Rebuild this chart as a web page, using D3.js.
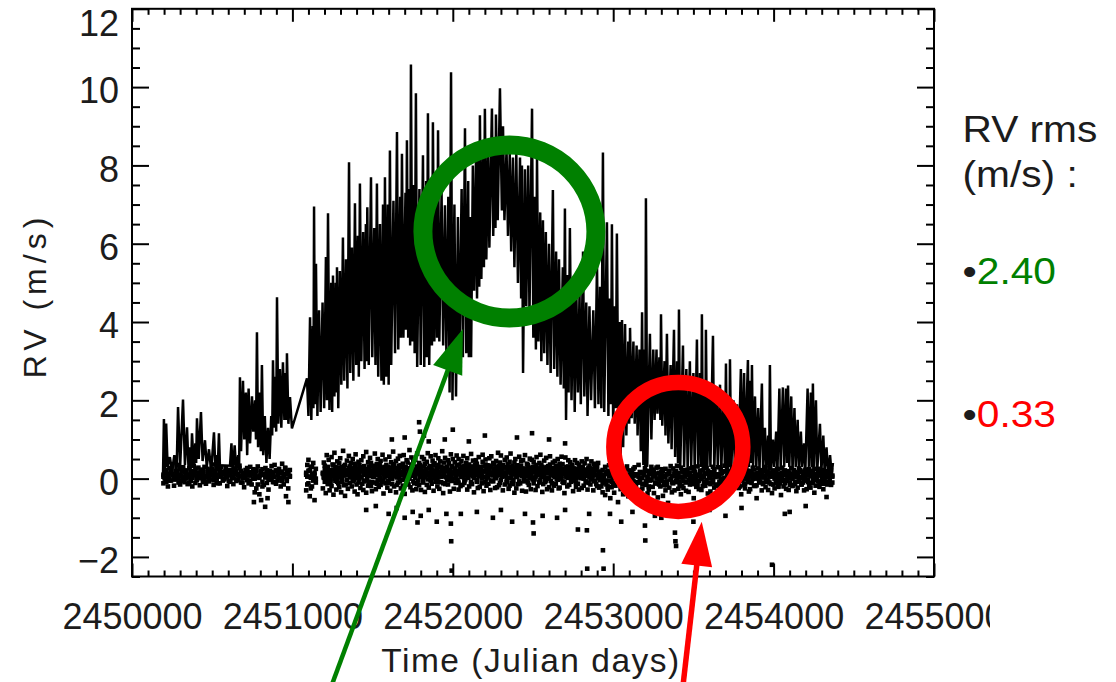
<!DOCTYPE html>
<html>
<head>
<meta charset="utf-8">
<script src="https://cdn.jsdelivr.net/npm/d3@7"></script>
<style>
  html, body { margin: 0; padding: 0; background: #ffffff; }
  svg { display: block; }
  text { font-family: "Liberation Sans", Arial, Helvetica, sans-serif; }
</style>
</head>
<body>
<svg id="chart" width="1116" height="682"></svg>
<script>
// ---------------------------------------------------------------
// Axis definitions
// ---------------------------------------------------------------
const jdBase = 2450000;
const xTickValues = [2450000, 2451000, 2452000, 2453000, 2454000, 2455000];
const xTickLabels = ["2450000", "2451000", "2452000", "2453000", "2454000", "2455000"];
const yTickValues = [-2, 0, 2, 4, 6, 8, 10, 12];
const yTickLabels = ["\u22122", "0", "2", "4", "6", "8", "10", "12"];
const xTitle = "Time (Julian days)";
const yTitle = "RV (m/s)";
const rmsTitle = ["RV rms", "(m/s) :"];
const rmsValues = ["2.40", "0.33"];

// ---------------------------------------------------------------
// Activity-induced RV (connected series): [JD - 2450000, RV m/s]
// ---------------------------------------------------------------
const activityEarly = [
  [193,0.0],[199,1.52],[206,0.25],[213,1.41],[222,0.3],[236,0.55],[250,0.2],[264,0.6],[278,0.15],[287,1.83],
  [300,0.3],[318,2.02],[330,0.35],[343,1.31],[352,0.3],[362,0.8],[368,0.25],[374,1.16],[385,0.35],[395,0.9],
  [400,0.4],[405,1.54],[416,0.5],[430,1.7],[440,0.45],[455,0.98],[466,0.3],[480,0.75],[494,0.2],[511,1.18],
  [520,0.25],[529,0.6],[535,0.3],[542,1.16],[548,0.34],
  [611,0.33],[620,0.9],[628,0.1],[640,0.85],[650,0.2],[662,0.6],[668,0.3],[673,2.59],[680,0.7],[692,2.5],
  [700,1.0],[710,2.2],[718,0.6],[727,2.3],[736,0.9],[748,2.1],[756,1.2],[767,2.0],[773,1.0],[779,3.74],
  [786,0.8],[797,2.2],[803,0.7],[810,2.9],[818,0.6],[828,1.6],[838,0.4],[848,1.3],[858,0.5],[868,1.6],
  [874,1.1],[879,3.02],[886,1.3],[895,2.6],[899,1.2],[904,4.63],[912,1.4],[922,2.8],[931,1.3],[941,2.97],
  [950,1.5],[958,2.7],[962,1.5],[966,3.2],[975,1.4],[985,2.08],[997,1.28]
];
const activityRise = [
  [1091,2.56],[1100,1.6],[1110,4.12],[1118,1.5],[1127,3.9],[1131,1.8],[1135,6.95],[1141,1.9],[1147,5.49],[1156,1.6],
  [1166,4.3],[1176,1.7],[1188,4.5],[1198,1.8],[1209,5.66],[1215,2.0],[1222,6.78],[1231,1.75],[1242,5.0],[1248,1.7],
  [1253,5.19],[1262,2.1],[1270,5.0],[1274,2.2],[1278,5.4],[1286,1.8],[1296,5.3],[1305,2.4],[1315,6.16],[1323,2.5],
  [1334,5.6],[1343,2.3],[1353,8.08],[1361,2.7],[1371,5.9],[1380,2.5],[1390,7.03],[1398,2.9],[1408,6.2],[1414,2.6],
  [1421,7.54],[1430,3.0],[1441,6.3],[1450,2.8],[1458,6.5],[1462,3.0],[1467,6.93],[1476,2.9],[1490,7.7],[1498,3.1],
  [1510,6.4],[1518,2.9],[1527,7.54],[1535,2.6],
  [1546,6.5],[1555,2.5],[1565,7.0],[1570,2.4],[1577,7.7],[1585,2.6],[1595,7.0],[1600,2.4],[1608,8.38],[1616,2.9],
  [1630,7.1],[1640,3.2],[1652,8.85],[1660,3.3],[1672,7.2],[1676,3.6],[1683,8.3],[1692,3.6],[1705,7.3],[1708,3.8],
  [1714,8.64],[1722,3.6],[1730,7.4],[1734,3.4],[1739,10.58],[1748,3.5],[1758,7.5],[1762,3.2],[1770,9.84],[1778,2.85],
  [1792,7.4],[1800,2.9],[1814,8.26],[1822,2.85],[1834,7.6],[1838,3.1],[1845,9.33],[1853,2.9],[1866,7.6],[1870,3.4],
  [1876,9.1],[1885,3.5],[1896,7.5],[1902,3.6],[1908,8.9],[1916,3.5],[1930,7.3],[1940,3.4],[1951,6.98],[1960,3.2],
  [1972,7.2],[1980,2.2],[1989,10.38],[1998,2.0],[2010,7.0],[2020,2.1],[2032,6.68],[2040,2.8],[2055,7.4],[2063,3.1],
  [2076,8.95],[2084,3.2],[2096,7.6],[2100,3.1]
];
const activityPeak = [
  [2107,6.68],[2114,3.1],[2125,8.0],[2133,4.8],[2145,8.3],[2151,4.6],[2160,8.2],[2165,4.9],[2169,9.28],[2178,5.1],
  [2188,8.3],[2194,5.4],[2200,9.45],[2209,5.6],[2220,8.4],[2228,5.9],[2244,9.45],[2252,6.2],[2262,8.5],[2266,6.4],
  [2269,9.3],[2280,6.6],[2294,9.97],[2306,6.85],[2313,9.0],[2322,6.6],[2335,8.4],[2344,6.2],[2355,8.3],[2364,5.8],
  [2375,8.2],[2384,5.4],[2396,8.3],[2406,5.0],[2419,8.2],[2426,4.6],[2431,8.0],[2438,2.7],[2450,7.9],[2458,4.4],
  [2470,8.0],[2478,4.2],
  [2494,9.45],[2502,3.6],[2512,7.2],[2518,3.3],[2525,8.2],[2534,3.5],[2545,6.8],[2552,3.0],[2562,6.6],[2570,3.2],
  [2580,6.3],[2590,2.9],[2600,6.0],[2610,2.7],[2624,7.37],[2632,2.8],[2644,5.8],[2652,2.6],[2662,5.6],[2672,2.4],
  [2686,5.4],[2692,2.3],[2699,6.9],[2706,1.5],[2716,5.2],[2722,2.2],[2730,6.4],[2740,2.0],[2752,5.0],[2760,1.7],
  [2770,4.8],[2780,2.2],[2790,4.7],[2798,1.9],[2812,5.8],[2820,2.1],[2832,4.5],[2840,1.6],[2852,4.4],[2862,2.0],
  [2876,4.3],[2886,1.8],[2899,5.5],[2908,1.9]
];
const activityDecline = [
  [2918,4.9],[2926,1.8],[2936,8.33],[2944,1.7],[2961,6.55],[2970,1.6],[2980,4.6],[2986,1.9],[2992,6.5],[3000,1.16],
  [3010,4.4],[3016,1.8],[3023,6.26],[3032,1.4],[3040,4.0],[3046,0.4],[3055,4.05],[3062,0.8],[3074,3.95],[3082,1.1],
  [3094,3.5],[3100,1.4],[3105,3.85],[3115,1.54],[3126,3.5],[3134,1.4],[3146,3.4],[3152,1.1],[3164,3.3],[3172,0.7],
  [3180,4.25],[3188,0.35],[3196,3.3],[3200,0.3],[3204,7.16],[3212,0.3],[3229,3.7],[3238,1.0],[3250,3.3],[3258,1.5],
  [3270,3.3],[3276,1.66],[3288,3.1],[3294,1.5],[3298,4.2],[3306,1.35],[3320,3.0],[3326,1.1],[3335,3.7],[3344,0.9],
  [3358,2.9],[3364,0.75],[3379,3.8],[3386,0.55],[3398,3.0],[3404,0.4],[3410,4.32],[3418,0.3],[3435,3.4],[3442,0.3],
  [3456,2.8],[3464,0.2],[3478,3.0],[3486,0.3],[3500,2.7],[3508,0.2],[3522,3.55],[3530,0.3],
  [3541,2.7],[3548,0.3],[3553,4.2],[3560,0.2],[3570,2.4],[3574,0.3],[3578,3.8],[3586,0.2],[3598,2.4],[3606,0.3],
  [3622,3.65],[3630,0.2],[3644,2.3],[3652,0.3],[3666,2.4],[3674,0.2],[3688,2.2],[3696,0.3],[3703,2.94],[3710,0.2],
  [3720,2.1],[3724,0.3],[3728,3.05],[3736,0.2],[3750,2.0],[3758,0.3],[3772,1.9],[3780,0.2],[3796,2.8],[3804,0.3],
  [3816,2.7],[3822,0.4],[3840,3.03],[3846,0.3],[3856,2.5],[3860,0.4],[3865,2.9],[3872,0.3],[3884,2.1],[3892,0.3],
  [3904,1.8],[3912,0.2],[3927,2.43],[3934,0.3],[3946,1.3],[3954,0.2],[3966,1.1],[3972,0.3],[3977,2.9],[3984,0.2],
  [3996,1.0],[4004,0.3],[4016,1.2],[4024,0.2],[4036,2.3],[4044,0.3],[4058,2.33],[4066,0.3],[4078,2.3],[4084,0.4],
  [4090,2.38],[4098,0.3],[4110,2.1],[4118,0.2],[4130,1.8],[4138,0.3],[4150,1.5],[4158,0.2],[4170,1.2],[4178,0.3],
  [4190,0.9],[4198,0.2],[4212,2.3],[4220,0.3],[4232,2.2],[4238,0.3],[4245,2.43],[4252,0.3],[4264,2.0],[4272,0.2],
  [4289,1.4],[4298,0.2],[4310,1.1],[4318,0.2],[4330,0.8],[4340,0.1],[4352,0.6],[4362,0.1],[4370,0.4]
];

// ---------------------------------------------------------------
// Corrected RV residuals (points): [JD - 2450000, RV, RV, RV] per night
// ---------------------------------------------------------------
const residualsEarly = [
  [196,0.05,-0.12,0.1],[205,0.18,0.02,0.0],[214,-0.08,0.22,0.15],[224,0.11,-0.2,0.05],[233,0.27,0.0,-0.05],[243,-0.05,0.15,0.2],[252,0.09,0.31,0.12],[262,-0.18,0.06,-0.02],
  [271,0.2,-0.02,0.08],[281,0.13,0.35,0.18],[290,-0.1,0.04,0.0],[300,0.24,-0.15,0.1],[309,0.07,0.18,-0.06],[319,-0.03,0.29,0.22],[328,0.16,-0.09,0.04],[338,0.01,0.21,0.14],
  [347,-0.14,0.1,0.07],[357,0.26,0.03,-0.1],[366,0.12,-0.06,0.19],[376,-0.2,0.17,0.02],[385,0.08,0.33,0.11],[395,0.19,-0.11,0.25],[404,-0.04,0.06,-0.03],[414,0.14,0.28,0.09],
  [423,0.02,-0.17,0.16],[433,0.23,0.09,0.01],[442,-0.09,0.15,0.21],[452,0.3,0.0,0.06],[461,0.05,-0.13,-0.08],[471,0.17,0.25,0.13],[480,-0.07,0.11,0.03],[490,0.21,-0.02,0.17],
  [499,0.1,0.36,0.24],[509,-0.16,0.04,-0.04],[518,0.13,0.2,0.1],[528,0.0,-0.1,0.08],[537,0.25,0.08,-0.12],[547,-0.12,0.16,0.2],[556,0.07,0.3,0.05],[566,0.18,-0.05,0.14],
  [575,-0.02,0.12,0.0],[585,0.28,0.06,0.18],[594,0.03,-0.19,0.09],[604,0.15,0.22,-0.07],[613,-0.08,0.09,0.12],[623,0.2,0.01,0.22],[632,0.04,-0.14,0.04],[642,0.26,0.12,0.15],
  [651,-0.06,0.19,-0.02],[661,0.11,-0.03,0.1],[670,0.33,0.07,0.27],[680,-0.1,0.2,0.06],[689,0.14,0.02,-0.1],[699,0.05,-0.22,0.13],[708,0.22,0.1,0.02],[718,-0.04,0.27,0.19],
  [727,0.16,-0.12,0.08],[737,0.08,0.3,-0.05],[746,-0.15,0.13,0.16],[756,0.24,0.0,0.11],[765,0.1,-0.35,0.0],[775,-0.25,0.18,0.23],[784,0.31,0.05,-0.15],[794,0.02,-0.4,0.07],
  [803,0.19,0.09,0.14],[813,-0.08,0.24,-0.2],[822,0.12,-0.16,0.1],[832,0.27,0.03,0.04],[841,-0.11,0.15,0.21],[851,0.06,-0.28,-0.03],[860,0.2,0.1,0.12],[870,-0.02,0.32,0.17],
  [879,0.15,-0.09,0.05],[889,0.35,0.04,-0.09],[898,-0.13,0.21,0.2],[908,0.09,-0.05,0.09],[917,0.25,0.14,0.02],[927,-0.2,0.02,0.15],[936,0.18,0.38,-0.06],[946,0.04,-0.15,0.11],
  [955,0.28,0.11,0.26],[965,-0.06,0.2,0.0],[974,0.13,-0.25,0.13],[984,0.22,0.05,0.07],
  [1086,0.15,-0.3,0.1],[1093,0.35,0.05,-0.15],[1100,-0.12,0.48,0.2],[1108,0.22,-0.45,0.05],[1115,0.02,0.3,-0.25],[1122,-0.2,0.12,0.3],[1130,0.4,-0.05,0.0],[1138,0.1,-0.55,0.15],[1146,0.25,0.0,-0.1]
];
const residualsMid = [
  [1190,0.12,-0.25,0.15],[1196,0.41,0.05,0.02],[1202,-0.08,0.33,0.25],[1208,0.18,-0.37,0.1],[1214,0.6,0.02,-0.05],[1220,0.27,-0.14,0.3],[1226,0.09,0.48,0.18],[1232,-0.3,0.21,0.06],[1238,0.15,-0.02,-0.12],[1244,0.55,-0.19,0.22],
  [1250,0.07,0.36,0.12],[1256,-0.41,0.23,0.35],[1262,0.11,0.66,0.0],[1268,-0.06,0.3,0.2],[1274,0.17,-0.28,0.08],[1280,0.44,0.0,-0.08],[1286,-0.12,0.25,0.28],[1292,0.39,-0.22,0.14],[1298,0.13,0.52,0.04],[1304,0.04,-0.35,0.24],
  [1310,0.29,-0.09,-0.02],[1316,0.19,0.71,0.17],[1322,-0.17,0.08,0.32],[1328,0.35,-0.44,0.09],[1334,0.22,0.14,-0.15],[1340,-0.03,0.46,0.19],[1346,0.1,-0.26,0.11],[1352,0.58,0.2,0.27],[1358,-0.11,0.31,0.03],[1364,0.06,0.4,0.21],
  [1370,-0.2,0.16,0.08],[1376,0.5,-0.07,0.26],[1382,0.26,0.01,-0.04],[1388,-0.33,0.38,0.16],[1394,0.12,0.62,0.33],[1400,-0.15,0.24,0.01],[1406,0.09,-0.4,0.2],[1412,0.43,0.17,-0.1],[1418,-0.01,0.34,0.13],[1424,-0.24,0.28,0.23],
  [1430,0.03,0.47,0.05],[1436,-0.13,0.21,0.18],[1442,0.57,-0.29,0.29],[1448,0.1,0.32,-0.07],[1454,-0.05,0.18,0.14],[1460,0.68,-0.36,0.24],[1466,0.15,0.07,0.0],[1472,0.42,-0.18,0.11],[1478,0.25,-0.08,0.31],[1484,0.53,0.11,0.07],
  [1490,-0.19,0.4,0.21],[1496,0.14,-0.32,-0.09],[1502,0.33,0.05,0.16],[1508,0.21,-0.1,0.04],[1514,0.64,0.18,0.27],[1520,-0.27,0.09,0.12],[1526,0.37,0.26,-0.13],[1532,-0.04,0.5,0.19],[1538,0.16,-0.21,0.09],[1544,0.02,0.3,0.34],
  [1550,0.45,-0.16,0.02],[1556,-0.08,0.23,0.23],[1562,0.28,0.61,0.13],[1568,-0.38,0.13,-0.06],[1574,0.19,0.04,0.3],[1580,0.49,-0.12,0.17],[1586,0.08,0.35,0.06],[1592,-0.23,0.2,0.25],[1598,0.3,-0.06,-0.11],[1604,0.56,0.15,0.15],
  [1610,0.01,-0.31,0.1],[1616,0.24,0.42,0.28],[1622,-0.14,0.1,-0.01],[1628,0.37,0.69,0.2],[1634,0.06,-0.2,0.36],[1640,0.27,0.16,0.07],[1646,-0.35,0.45,0.14],[1652,0.12,0.03,-0.16],[1658,0.51,-0.1,0.22],[1664,0.2,0.33,0.03],
  [1670,-0.07,0.58,0.18],[1676,0.34,-0.25,0.09],[1682,0.15,0.09,0.3],[1688,-0.18,0.38,-0.03],[1694,0.6,0.22,0.15],[1700,0.05,-0.39,0.25],[1706,0.29,0.13,0.05],[1712,-0.1,0.47,0.12],[1718,0.41,0.0,-0.09],[1724,0.18,-0.15,0.26],
  [1730,0.73,0.26,0.0],[1736,-0.22,0.1,0.19],[1742,0.36,0.54,0.11],[1748,0.07,-0.3,0.33],[1754,0.23,0.44,-0.07],[1760,-0.12,0.17,0.22],[1766,0.48,0.02,0.08],[1772,0.14,-0.27,0.16],[1778,0.31,0.64,-0.14],[1784,-0.05,0.2,0.29],
  [1790,0.4,-0.17,0.13],[1796,0.11,0.35,0.04],[1802,-0.29,0.26,0.24],[1808,0.55,0.08,0.17],[1814,0.19,-0.06,-0.1],[1820,0.03,0.5,0.31],[1826,0.38,-0.34,0.06],[1832,0.24,0.12,0.2],[1838,-0.16,0.43,0.1],[1844,0.65,0.16,-0.02],
  [1850,0.09,-0.23,0.27],[1856,0.32,0.05,0.14],[1862,-0.02,0.57,-0.05],[1868,0.27,-0.13,0.21],[1874,0.46,0.2,0.08],[1880,-0.31,0.1,0.35],[1886,0.17,0.39,0.01],[1892,0.6,-0.08,0.18],[1898,0.13,0.28,0.12],[1904,-0.2,0.01,0.25],
  [1910,0.35,0.52,-0.08],[1916,0.08,-0.26,0.16],[1922,0.44,0.18,0.3],[1928,-0.09,0.3,0.05],[1934,0.22,0.7,0.23],[1940,-0.37,0.06,-0.12],[1946,0.15,0.41,0.11],[1952,0.53,-0.14,0.28],[1958,0.04,0.25,0.19],[1964,0.3,-0.04,0.03],
  [1970,-0.15,0.47,0.22],[1976,0.39,0.11,0.09],[1982,0.2,-0.33,0.15],[1988,0.62,0.07,-0.04],[1994,-0.06,0.29,0.32],[2000,0.16,0.5,0.13],[2006,-0.26,0.14,0.0],[2012,0.42,0.23,0.26],[2018,0.1,-0.11,0.07],[2024,0.34,0.59,0.18],
  [2030,-0.03,0.19,0.11],[2036,0.5,-0.28,-0.1],[2042,0.12,0.36,0.24],[2048,-0.19,0.08,0.17],[2054,0.27,0.45,0.04],[2060,0.06,-0.16,0.29],[2066,0.58,0.21,0.14],[2072,-0.11,0.33,-0.06],[2078,0.24,-0.02,0.2],[2084,0.4,0.13,0.08],
  [2090,-0.28,0.52,0.3],[2096,0.17,0.03,0.02],[2102,0.36,-0.2,0.19],[2108,0.09,0.28,0.12],[2114,0.63,-0.09,-0.13],[2120,-0.14,0.19,0.25],[2126,0.31,0.46,0.06],[2132,0.02,-0.35,0.16],[2138,0.21,0.12,0.34],[2144,0.47,0.27,0.1],
  [2150,-0.08,0.38,-0.03],[2156,0.14,-0.24,0.21],[2162,0.55,0.06,0.09],[2168,-0.21,0.3,0.27],[2174,0.26,0.16,0.14],[2180,0.07,-0.12,0.0],[2186,0.43,0.61,0.18],[2192,-0.32,0.2,0.31],[2198,0.18,0.04,0.05],[2204,0.36,0.49,-0.09],
  [2210,0.0,-0.18,0.23],[2216,0.28,0.34,0.12],[2222,-0.13,0.1,0.03],[2228,0.52,0.23,0.19],[2234,0.11,-0.29,0.29],[2240,0.33,0.57,-0.06],[2246,-0.05,0.15,0.15],[2252,0.4,-0.07,0.08],[2258,0.19,0.37,0.26],[2264,-0.24,0.05,0.13],
  [2270,0.45,0.26,0.01],[2276,0.08,-0.22,0.2],[2282,0.3,0.66,0.1],[2288,-0.17,0.13,0.33],[2294,0.22,0.41,-0.11],[2300,0.59,-0.03,0.17],[2306,0.05,0.24,0.24],[2312,-0.3,0.35,0.06],[2318,0.16,0.09,0.14],[2324,0.48,-0.15,0.28],
  [2330,0.12,0.29,0.07],[2336,-0.09,0.54,-0.04],[2342,0.37,0.02,0.22],[2348,0.21,-0.26,0.16],[2354,-0.18,0.43,0.3],[2360,0.64,0.14,0.02],[2366,0.03,-0.1,0.19],[2372,0.29,0.32,0.11],[2378,-0.04,0.18,-0.14],[2384,0.41,-0.36,0.25],
  [2390,0.15,0.5,0.13],[2396,-0.25,0.07,0.28],[2402,0.34,0.22,0.04],[2408,0.1,-0.14,0.2],[2414,0.56,0.3,-0.07],[2420,-0.12,0.17,0.15],[2426,0.25,0.44,0.32],[2432,0.06,-0.31,0.09],[2438,0.47,0.11,0.18],[2444,-0.07,0.26,0.0],
  [2450,0.2,0.6,0.24],[2456,-0.33,0.09,0.06],[2462,0.38,-0.05,0.14],[2468,0.13,0.35,-0.1],[2474,-0.16,0.2,0.27],[2480,0.51,0.01,0.11],[2486,0.08,-0.27,0.19],[2492,0.27,0.48,0.03],[2498,-0.02,0.16,0.3],[2504,0.43,-0.12,0.16],
  [2510,0.18,0.31,-0.02],[2516,-0.29,0.04,0.22],[2522,0.35,0.55,0.08],[2528,0.1,-0.19,0.17],[2534,0.24,0.14,0.26],[2540,-0.1,0.4,-0.08],[2546,0.61,-0.04,0.12],[2552,0.05,0.23,0.35],[2558,0.3,-0.34,0.05],[2564,-0.14,0.12,0.2],
  [2570,0.46,0.28,0.1],[2576,0.02,-0.09,0.18],[2582,0.22,0.53,-0.05],[2588,-0.27,0.17,0.29],[2594,0.32,0.0,0.14],[2600,0.14,-0.22,0.02],[2606,0.57,0.36,0.23],[2612,-0.06,0.1,0.09],[2618,0.26,-0.3,-0.12],[2624,0.41,0.19,0.27],
  [2630,-0.18,0.07,0.15],[2636,0.09,0.45,0.04],[2642,0.33,-0.13,0.21],[2648,-0.01,0.25,0.11],[2654,0.5,0.04,-0.03],[2660,0.16,-0.25,0.31],[2666,-0.23,0.38,0.07],[2672,0.28,0.12,0.19],[2678,0.07,0.56,0.0],[2684,0.37,-0.08,0.25],
  [2690,-0.11,0.21,0.12],[2696,0.23,-0.37,-0.09],[2702,0.54,0.14,0.26],[2708,0.03,0.3,0.08],[2714,-0.2,0.06,0.17],[2720,0.31,0.47,0.02],[2726,0.11,-0.16,0.22],[2732,0.42,0.2,0.14],[2738,-0.08,0.02,-0.06],[2744,0.19,0.35,0.3],
  [2750,-0.32,0.15,0.05],[2756,0.26,-0.05,0.2],[2762,0.47,0.24,0.1],[2768,0.0,-0.21,-0.11],[2774,0.17,0.4,0.24],[2780,-0.13,0.11,0.13],[2786,0.36,-0.28,0.03],[2792,0.08,0.27,0.28],[2798,0.21,0.01,0.16],[2804,-0.24,0.44,0.07],
  [2810,0.3,0.13,0.18],[2816,0.05,-0.18,0.0],[2822,0.39,0.22,0.23],[2828,-0.09,0.06,0.09],[2834,0.18,0.5,-0.07],[2840,-0.28,0.09,0.15],[2846,0.25,-0.11,0.27],[2852,0.12,0.33,0.04],[2858,-0.15,0.17,0.12],[2864,0.44,-0.02,-0.02],
  [2870,0.02,0.26,0.2],[2876,0.2,-0.3,0.08],[2882,-0.07,0.38,0.14],[2888,0.33,0.1,-0.05],[2894,0.09,-0.14,0.22],[2900,-0.19,0.29,0.1],[2906,0.4,0.04,0.01],[2912,0.14,-0.23,0.17],[2918,-0.04,0.18,0.06]
];
const residualsLate = [
  [2926,0.1,-0.2,0.0],[2934,-0.35,0.22,-0.12],[2942,0.05,-0.08,0.1],[2950,0.3,-0.42,-0.05],[2958,-0.15,0.12,0.18],[2966,0.2,-0.28,-0.2],[2974,-0.05,0.34,0.06],[2982,0.15,-0.5,0.13],[2990,-0.22,0.08,-0.08],[2998,0.26,-0.12,0.02],
  [3006,0.02,-0.36,-0.16],[3014,-0.18,0.19,0.2],[3022,0.33,-0.04,0.04],[3030,-0.1,-0.6,-0.1],[3038,0.12,0.27,0.12],[3046,-0.27,0.03,-0.02],[3054,0.18,-0.16,0.08],[3062,-0.4,0.1,-0.22],[3070,0.07,-0.24,0.15],[3078,0.24,-0.08,-0.06],
  [3086,-0.13,0.31,0.1],[3094,0.04,-0.45,-0.14],[3102,0.21,-0.19,0.03],[3110,-0.31,0.06,0.16],[3118,0.14,-0.02,-0.04],[3126,-0.06,0.25,0.07],[3134,0.29,-0.33,-0.18],[3142,-0.2,0.1,0.11],[3150,0.08,-0.55,-0.09],[3158,0.35,-0.1,0.05],
  [3166,-0.09,0.17,-0.01],[3174,0.16,-0.29,0.14],[3182,-0.25,0.01,-0.13],[3190,0.11,-0.7,0.09],[3198,0.27,-0.14,0.19],[3206,-0.16,0.2,-0.07],[3214,0.05,-0.38,0.02],[3222,-0.28,0.13,-0.2],[3230,0.19,-0.05,0.12],[3238,-0.03,0.3,-0.03],
  [3246,0.23,-0.21,0.06],[3254,-0.37,0.07,0.17],[3262,0.1,-0.12,-0.11],[3270,-0.12,0.28,0.0],[3278,0.3,-0.48,0.13],[3286,0.0,0.15,-0.15],[3294,-0.2,-0.06,0.08],[3302,0.17,0.24,-0.05],[3310,-0.44,0.04,0.2],[3318,0.08,-0.17,-0.09],
  [3326,0.25,-0.3,0.04],[3334,-0.07,0.11,-0.17],[3342,0.13,-0.62,0.11],[3350,-0.23,0.2,0.15],[3358,0.32,-0.02,-0.02],[3366,-0.1,-0.35,0.07],[3374,0.06,0.26,-0.12],[3382,-0.3,0.12,0.18],[3390,0.2,-0.09,-0.06],[3398,-0.05,0.33,0.01],
  [3406,0.15,-0.26,0.12],[3414,-0.17,0.05,-0.08],[3422,0.28,-0.4,0.03],[3430,0.03,0.18,-0.19],[3438,-0.24,-0.07,0.16],[3446,0.11,0.22,0.05],[3454,-0.08,-0.31,-0.1],[3462,0.22,0.09,0.09],[3470,-0.34,0.14,-0.04],[3478,0.07,-0.15,0.14],
  [3486,0.26,-0.03,-0.13],[3494,-0.14,0.29,0.06],[3502,0.01,-0.5,0.19],[3510,0.18,0.1,-0.07],[3518,-0.21,-0.12,0.02],[3526,0.31,0.06,-0.16],[3534,-0.06,-0.27,0.1],[3542,0.12,0.2,0.15],[3550,-0.29,0.02,-0.01],[3558,0.21,-0.19,0.08],
  [3566,0.04,0.27,-0.11],[3574,-0.18,-0.08,0.13],[3582,0.27,0.13,-0.04],[3590,-0.11,-0.38,0.2],[3598,0.09,0.17,0.01],[3606,-0.33,0.05,-0.14],[3614,0.16,-0.1,0.09],[3622,-0.02,0.3,-0.08],[3630,0.24,-0.23,0.17],[3638,-0.15,0.08,0.04],
  [3646,0.06,-0.44,-0.18],[3654,0.29,0.1,0.11],[3662,-0.08,-0.16,0.06],[3670,0.13,0.24,-0.03],[3678,-0.26,0.0,0.14],[3686,0.19,-0.11,-0.1],[3694,0.02,0.33,0.0],[3702,-0.2,-0.28,0.18],[3710,0.25,0.07,-0.06],[3718,-0.05,0.19,0.1],
  [3726,0.1,-0.35,0.03],[3734,-0.31,0.14,-0.15],[3742,0.2,0.02,0.12],[3750,0.0,-0.2,0.07],[3758,0.28,0.11,-0.09],[3766,-0.13,-0.06,0.16],[3774,0.07,0.26,-0.02],[3782,-0.24,-0.13,0.05],[3790,0.15,0.04,-0.2],[3798,-0.04,-0.4,0.13],
  [3806,0.22,0.16,-0.05],[3814,-0.17,0.06,0.09],[3822,0.11,-0.25,-0.13],[3830,0.3,0.0,0.15],[3838,-0.09,0.2,0.01],[3846,0.05,-0.33,-0.08],[3854,-0.27,0.12,0.19],[3862,0.18,-0.07,-0.11],[3870,-0.01,0.28,0.06],[3878,0.23,-0.18,0.11],
  [3886,-0.19,0.08,0.0],[3894,0.08,-0.5,-0.17],[3902,0.26,0.13,0.14],[3910,-0.1,-0.02,0.04],[3918,0.14,0.22,-0.07],[3926,-0.3,0.05,0.17],[3934,0.2,-0.14,-0.12],[3942,0.03,0.3,0.08],[3950,-0.22,-0.09,0.02],[3958,0.12,0.18,-0.04],
  [3966,-0.07,-0.29,0.16],[3974,0.27,0.06,-0.1],[3982,-0.14,0.15,0.05],[3990,0.09,-0.37,0.12],[3998,0.21,0.1,-0.15],[4006,-0.25,0.0,0.1],[4014,0.16,-0.12,-0.01],[4022,-0.03,0.25,0.07],[4030,0.24,-0.21,-0.19],[4038,-0.12,0.09,0.13],
  [4046,0.05,-0.42,-0.06],[4054,0.28,0.14,0.03],[4062,-0.2,-0.04,0.18],[4070,0.1,0.21,-0.12],[4078,-0.06,-0.26,0.09],[4086,0.19,0.03,-0.03],[4094,-0.29,0.16,0.14],[4102,0.13,-0.1,-0.16],[4110,0.01,0.27,0.06],[4118,-0.17,-0.19,0.0],
  [4126,0.22,0.07,0.11],[4134,-0.08,0.17,-0.14],[4142,0.15,-0.32,0.04],[4150,-0.23,0.05,0.15],[4158,0.26,-0.07,-0.08],[4166,0.04,0.22,0.02],[4174,-0.15,-0.15,0.17],[4182,0.18,0.11,-0.1],[4190,-0.04,-0.3,0.07],[4198,0.23,0.02,-0.05],
  [4206,-0.27,0.14,0.13],[4214,0.09,-0.09,-0.02],[4222,0.2,0.24,-0.17],[4230,-0.11,-0.23,0.08],[4238,0.14,0.06,0.16],[4246,-0.02,0.19,-0.11],[4254,0.25,-0.36,0.05],[4262,-0.18,0.1,0.0],[4270,0.07,-0.04,0.12],[4278,0.17,0.25,-0.07],
  [4286,-0.21,-0.12,0.09],[4294,0.12,0.08,-0.13],[4302,-0.06,0.2,0.03],[4310,0.22,-0.27,0.14],[4318,-0.13,0.03,-0.04],[4326,0.05,0.16,0.1],[4334,0.19,-0.15,-0.09],[4342,-0.09,0.09,0.06],[4350,0.14,-0.05,0.01],[4358,-0.16,0.21,-0.12],[4366,0.08,-0.1,0.05]
];
const residualOutliers = [
  [760,-0.6],[805,-0.55],[830,-0.72],[845,-0.5],[960,-0.45],[975,-0.6],
  [1620,1.0],[1700,1.05],[1790,1.44],[1795,1.2],[1820,1.1],[1850,0.95],[1950,1.0],[2000,1.25],[2100,0.95],
  [2200,1.1],[2400,1.05],[2494,1.16],[2600,1.0],[2700,0.9],
  [1460,-0.8],[1520,-0.7],[1600,-0.9],[1650,-0.75],[1700,-1.0],[1750,-0.85],[1780,-1.12],[1800,-0.95],[1850,-0.8],
  [1900,-1.1],[1960,-0.9],[1988,-1.15],[1990,-1.6],[1993,-2.35],[2050,-0.9],[2150,-0.85],[2250,-1.0],[2300,-0.8],
  [2370,-1.1],[2450,-0.9],[2500,-1.12],[2504,-1.4],[2560,-0.95],[2650,-1.0],[2700,-0.8],[2780,-1.3],[2836,-1.32],
  [2838,-2.3],[2850,-0.9],
  [2936,-1.83],[2940,-2.3],[2980,-0.9],[3050,-1.1],[3120,-0.85],[3198,-1.2],[3200,-1.58],[3260,-0.95],[3300,-1.0],
  [3385,-1.38],[3388,-1.6],[3392,-1.72],[3440,-0.9],[3500,-1.1],[3600,-0.8],[3700,-0.95],[3800,-0.75],[3990,-2.2],
  [4070,-0.9],[4100,-0.85],[4200,-0.7],[4330,-0.47]
];

// Highlight rings and arrows (positions in data units: JD, RV; radius in px)
const highlightRings = [
  { jd: 2452353, rv: 6.31, r: 86.5, width: 19, color: "#008000" },
  { jd: 2453406, rv: 0.81, r: 64.5, width: 15.5, color: "#ff0000" }
];
const highlightArrows = [
  { fromJd: 2451234, fromRv: -5.4, toJd: 2452063, toRv: 3.82, width: 4.5, color: "#008000" },
  { fromJd: 2453432, fromRv: -5.4, toJd: 2453552, toRv: -1.10, width: 5.5, color: "#ff0000" }
];
const rmsColors = ["#008000", "#ff0000"];

// ---------------------------------------------------------------
// Drawing
// ---------------------------------------------------------------
const svg = d3.select("#chart");
const W = 1116, H = 682;
const plot = { left: 132, right: 934, top: 8.8, bottom: 576.5 };

const x = d3.scaleLinear().domain([2450000, 2455000]).range([plot.left, plot.right]);
const y = d3.scaleLinear().domain([-2.5, 12]).range([plot.bottom, plot.top]);

svg.append("rect").attr("width", W).attr("height", H).attr("fill", "#ffffff");

const defs = svg.append("defs");
defs.append("clipPath").attr("id", "plotClip")
  .append("rect")
  .attr("x", plot.left).attr("y", plot.top)
  .attr("width", plot.right - plot.left).attr("height", plot.bottom - plot.top);
defs.append("clipPath").attr("id", "labelClip")
  .append("rect").attr("x", -10).attr("y", -600).attr("width", 1000).attr("height", 800);

const dataLayer = svg.append("g").attr("clip-path", "url(#plotClip)");

// connected activity series
const activity = activityEarly.concat(activityRise, activityPeak, activityDecline);
const line = d3.line()
  .x(d => x(jdBase + d[0]))
  .y(d => y(d[1]));
dataLayer.append("path")
  .datum(activity)
  .attr("d", line)
  .attr("fill", "none")
  .attr("stroke", "#000")
  .attr("stroke-width", 2.5);

// residual points
const residuals = [];
[residualsEarly, residualsMid, residualsLate].forEach(group => {
  group.forEach(night => {
    for (let k = 1; k < night.length; k++) residuals.push([night[0], night[k]]);
  });
});
residualOutliers.forEach(p => residuals.push(p));

const ms = 4.6;
dataLayer.append("g")
  .selectAll("rect")
  .data(residuals)
  .join("rect")
  .attr("x", d => x(jdBase + d[0]) - ms / 2)
  .attr("y", d => y(d[1]) - ms / 2)
  .attr("width", ms)
  .attr("height", ms)
  .attr("fill", "#000");

// axes with inward ticks on all four sides
const xMinor = x.ticks(50).filter(t => t % 1000 !== 0);
const yMinor = y.ticks(29).filter(t => t % 2 !== 0);
const tickFont = 36;

function styleAxis(g) {
  g.select(".domain").remove();
  g.selectAll(".tick line").attr("stroke", "#000").attr("stroke-width", 2);
  g.selectAll(".tick text")
    .attr("fill", "#1c1c1c")
    .style("font-size", tickFont + "px");
}

// bottom
svg.append("g").attr("transform", `translate(0,${plot.bottom})`)
  .call(d3.axisBottom(x).tickValues(xMinor).tickSizeInner(-6).tickSizeOuter(0).tickFormat(""))
  .call(styleAxis);
svg.append("g").attr("transform", `translate(0,${plot.bottom})`)
  .attr("clip-path", "url(#labelClip)")
  .call(d3.axisBottom(x).tickValues(xTickValues).tickSizeInner(-13).tickSizeOuter(0)
        .tickPadding(27).tickFormat((d, i) => xTickLabels[i]))
  .call(styleAxis);
// top
svg.append("g").attr("transform", `translate(0,${plot.top})`)
  .call(d3.axisTop(x).tickValues(xMinor).tickSizeInner(-6).tickSizeOuter(0).tickFormat(""))
  .call(styleAxis);
svg.append("g").attr("transform", `translate(0,${plot.top})`)
  .call(d3.axisTop(x).tickValues(xTickValues).tickSizeInner(-13).tickSizeOuter(0).tickFormat(""))
  .call(styleAxis);
// left
svg.append("g").attr("transform", `translate(${plot.left},0)`)
  .call(d3.axisLeft(y).tickValues(yMinor).tickSizeInner(-8).tickSizeOuter(0).tickFormat(""))
  .call(styleAxis);
svg.append("g").attr("transform", `translate(${plot.left},0)`)
  .call(d3.axisLeft(y).tickValues(yTickValues).tickSizeInner(-17).tickSizeOuter(0)
        .tickPadding(13).tickFormat((d, i) => yTickLabels[i]))
  .call(styleAxis)
  .call(g => g.selectAll(".tick text")
    .attr("dy", "0.44em")
    .attr("y", d => (d === 12 ? 11 : 0)));
// right
svg.append("g").attr("transform", `translate(${plot.right},0)`)
  .call(d3.axisRight(y).tickValues(yMinor).tickSizeInner(-8).tickSizeOuter(0).tickFormat(""))
  .call(styleAxis);
svg.append("g").attr("transform", `translate(${plot.right},0)`)
  .call(d3.axisRight(y).tickValues(yTickValues).tickSizeInner(-17).tickSizeOuter(0).tickFormat(""))
  .call(styleAxis);

// frame
svg.append("rect")
  .attr("x", plot.left).attr("y", plot.top)
  .attr("width", plot.right - plot.left).attr("height", plot.bottom - plot.top)
  .attr("fill", "none").attr("stroke", "#000").attr("stroke-width", 2);

// axis titles
svg.append("text")
  .attr("x", 531).attr("y", 672)
  .attr("text-anchor", "middle")
  .attr("fill", "#1c1c1c")
  .style("font-size", "33.5px")
  .style("letter-spacing", "1.5px")
  .text(xTitle);
svg.append("text")
  .attr("transform", "translate(45.5,295.5) rotate(-90)")
  .attr("text-anchor", "middle")
  .attr("fill", "#1c1c1c")
  .style("font-size", "32px")
  .style("letter-spacing", "5px")
  .text(yTitle);

// highlight rings
svg.append("g").selectAll("circle")
  .data(highlightRings)
  .join("circle")
  .attr("cx", d => x(d.jd))
  .attr("cy", d => y(d.rv))
  .attr("r", d => d.r)
  .attr("fill", "none")
  .attr("stroke", d => d.color)
  .attr("stroke-width", d => d.width);

// arrows
const headLen = 44, headHalf = 15.5;
highlightArrows.forEach(a => {
  const x0 = x(a.fromJd), y0 = y(a.fromRv), x1 = x(a.toJd), y1 = y(a.toRv);
  const len = Math.hypot(x1 - x0, y1 - y0);
  const ux = (x1 - x0) / len, uy = (y1 - y0) / len;
  const bx = x1 - ux * headLen, by = y1 - uy * headLen;
  svg.append("line")
    .attr("x1", x0).attr("y1", y0).attr("x2", bx + ux * 2).attr("y2", by + uy * 2)
    .attr("stroke", a.color).attr("stroke-width", a.width);
  svg.append("polygon")
    .attr("points", [
      [x1, y1],
      [bx - uy * headHalf, by + ux * headHalf],
      [bx + uy * headHalf, by - ux * headHalf]
    ].map(p => p.join(",")).join(" "))
    .attr("fill", a.color);
});

// rms annotation on the right
const side = svg.append("g").attr("fill", "#1c1c1c").style("font-size", "37px");
side.append("text").attr("transform", "translate(962.5,142) scale(1.1,1)").text(rmsTitle[0]);
side.append("text").attr("transform", "translate(962.5,187) scale(1.1,1)").text(rmsTitle[1]);
[283.5, 426.5].forEach((base, i) => {
  const t = side.append("text").attr("transform", `translate(962.5,${base}) scale(1.1,1)`);
  t.append("tspan").text("\u2022");
  t.append("tspan").attr("fill", rmsColors[i]).text(rmsValues[i]);
});
</script>
</body>
</html>
